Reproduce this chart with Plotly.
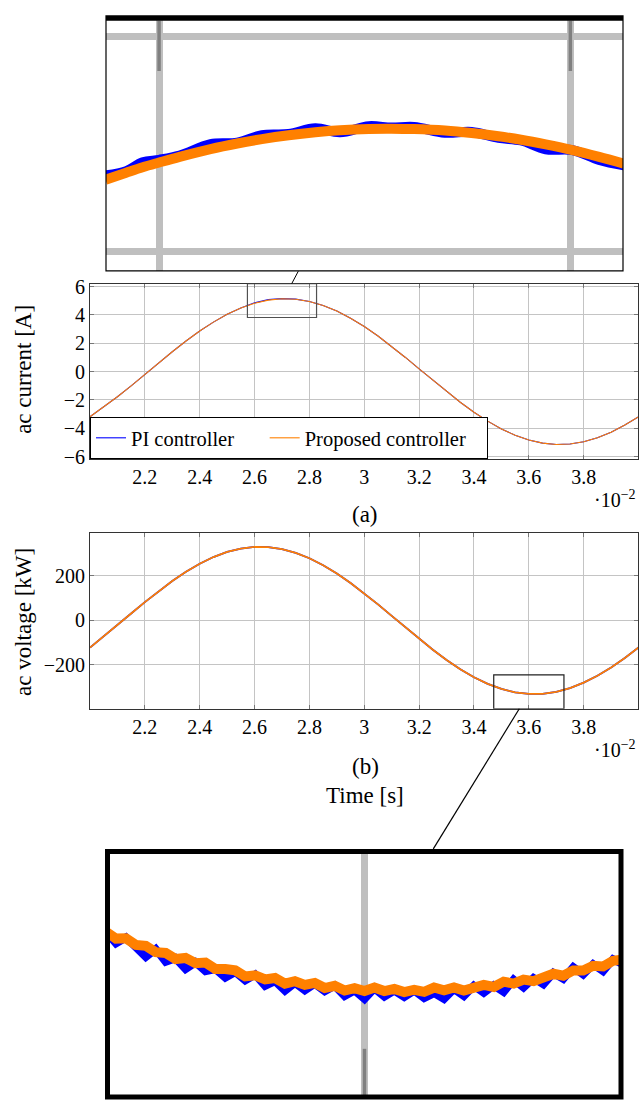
import plotly.graph_objects as go

# ---------------- data (time in units of 1e-2 s) ----------------
t_main = [2.00, 2.05, 2.10, 2.15, 2.20, 2.25, 2.30, 2.35, 2.40, 2.45, 2.50, 2.55, 2.60, 2.65,
          2.70, 2.75, 2.80, 2.85, 2.90, 2.95, 3.00, 3.05, 3.10, 3.15, 3.20, 3.25, 3.30, 3.35,
          3.40, 3.45, 3.50, 3.55, 3.60, 3.65, 3.70, 3.75, 3.80, 3.85, 3.90, 3.95, 4.00]

pi_current = [-3.18, -2.50, -1.77, -1.00, -0.19, 0.61, 1.40, 2.16, 2.86, 3.49, 4.04, 4.49, 4.85, 5.08,
              5.15, 5.11, 4.94, 4.66, 4.27, 3.77, 3.18, 2.51, 1.77, 1.00, 0.19, -0.61, -1.40, -2.16,
              -2.86, -3.49, -4.04, -4.49, -4.82, -5.04, -5.14, -5.10, -4.94, -4.66, -4.27, -3.77, -3.18]
proposed_current = [-3.18, -2.50, -1.77, -1.00, -0.19, 0.61, 1.40, 2.16, 2.86, 3.49, 4.04, 4.49, 4.82, 5.04,
                    5.14, 5.10, 4.94, 4.66, 4.27, 3.77, 3.18, 2.51, 1.77, 1.00, 0.19, -0.61, -1.40, -2.16,
                    -2.86, -3.49, -4.04, -4.49, -4.82, -5.04, -5.14, -5.10, -4.94, -4.66, -4.27, -3.77, -3.18]

pi_voltage = [-121.8, -72.2, -20.8, 31.1, 82.3, 131.4, 177.4, 218.9, 255.0, 284.9, 307.8, 323.0, 330.3, 329.5,
              320.6, 303.8, 279.5, 248.3, 211.0, 168.5, 121.8, 72.2, 20.8, -31.1, -82.3, -131.4, -177.4,
              -218.9, -255.0, -284.9, -307.8, -323.0, -330.3, -329.5, -320.6, -303.8, -279.5, -248.3,
              -211.0, -168.5, -121.8]
proposed_voltage = [-121.8, -72.2, -20.8, 31.1, 82.3, 131.4, 177.4, 218.9, 255.0, 284.9, 307.8, 323.0, 330.3, 329.5,
                    320.6, 303.8, 279.5, 248.3, 211.0, 168.5, 121.8, 72.2, 20.8, -31.1, -82.3, -131.4, -177.4,
                    -218.9, -255.0, -284.9, -307.8, -323.0, -330.3, -329.5, -320.6, -303.8, -279.5, -248.3,
                    -211.0, -168.5, -121.8]

# zoomed detail, current (inset a)
t_zoom_a = [2.574, 2.584, 2.592, 2.600, 2.610, 2.625, 2.638, 2.650, 2.663, 2.676, 2.688,
            2.702, 2.713, 2.724, 2.739, 2.752, 2.765, 2.776, 2.788, 2.801, 2.814, 2.826]
pi_current_zoom = [4.705, 4.745, 4.827, 4.850, 4.890, 4.996, 5.010, 5.080, 5.090, 5.144, 5.106,
                   5.163, 5.150, 5.156, 5.102, 5.109, 5.054, 5.030, 4.948, 4.941, 4.848, 4.798]
proposed_current_zoom = [4.665, 4.730, 4.781, 4.825, 4.878, 4.950, 5.002, 5.043, 5.079, 5.107, 5.126,
                         5.138, 5.140, 5.136, 5.122, 5.099, 5.069, 5.037, 4.994, 4.941, 4.878, 4.815]

# zoomed detail, voltage (inset b)
t_zoom_b = [3.470, 3.475, 3.480, 3.485, 3.490, 3.495, 3.500, 3.505, 3.510, 3.515, 3.520, 3.525, 3.530,
            3.535, 3.540, 3.545, 3.550, 3.555, 3.560, 3.565, 3.570, 3.575, 3.580, 3.585, 3.590, 3.595,
            3.600, 3.605, 3.610, 3.615, 3.620, 3.625, 3.630, 3.635, 3.640, 3.645, 3.650, 3.655, 3.660,
            3.665, 3.670, 3.675, 3.680, 3.685, 3.690, 3.695, 3.700, 3.705, 3.710, 3.715, 3.720, 3.725, 3.730]
pi_voltage_zoom = [-293.9, -301.2, -297.5, -303.7, -309.8, -304.8, -312.8, -310.6, -317.4, -313.2, -318.8,
                   -317.4, -322.9, -319.3, -324.6, -320.9, -328.0, -325.1, -331.1, -326.1, -330.9, -326.7,
                   -331.4, -328.0, -334.5, -331.0, -336.3, -329.6, -334.8, -331.0, -335.0, -331.0, -335.8,
                   -332.6, -336.3, -330.0, -334.5, -328.0, -332.4, -327.7, -331.9, -324.1, -329.1, -323.1,
                   -327.0, -319.9, -323.6, -316.3, -320.9, -314.4, -318.8, -311.2, -314.4]
proposed_voltage_zoom = [-293.9, -298.2, -298.0, -302.2, -302.8, -306.8, -307.3, -311.1, -310.4, -313.7, -313.3,
                         -317.4, -317.4, -318.3, -322.1, -321.4, -324.0, -323.1, -326.6, -325.1, -327.4, -326.2,
                         -329.4, -328.0, -331.0, -329.5, -331.3, -329.1, -331.3, -330.0, -332.0, -330.5, -331.8,
                         -329.1, -330.8, -329.0, -331.0, -328.5, -327.4, -328.7, -325.4, -326.6, -324.1, -325.1,
                         -322.5, -320.4, -321.6, -318.3, -318.4, -315.4, -315.8, -312.2, -311.4]

x_ticks = [2.2, 2.4, 2.6, 2.8, 3.0, 3.2, 3.4, 3.6, 3.8]
x_ticktext = ["2.2", "2.4", "2.6", "2.8", "3", "3.2", "3.4", "3.6", "3.8"]
ya_ticks = [-6, -4, -2, 0, 2, 4, 6]
yb_ticks = [-200, 0, 200]
series_names = ["PI controller", "Proposed controller"]

# ---------------- styling ----------------
W, H = 640, 1110
BLUE = "#0000ff"
ORANGE = "#ff8000"
GRID = "#c4c4c4"
FONT = "Liberation Serif, Times New Roman, serif"
NB = "\u00a0"


def px_x(p):
    return p / W


def px_y(p):
    return 1 - p / H


fig = go.Figure()

# main (a)
fig.add_trace(go.Scatter(x=t_main, y=pi_current, mode="lines", name=series_names[0] + NB * 5,
                         line=dict(color=BLUE, width=1.1), xaxis="x", yaxis="y"))
fig.add_trace(go.Scatter(x=t_main, y=proposed_current, mode="lines", name=series_names[1] + NB * 3,
                         line=dict(color=ORANGE, width=1.1), xaxis="x", yaxis="y"))
# main (b)
fig.add_trace(go.Scatter(x=t_main, y=pi_voltage, mode="lines", showlegend=False,
                         line=dict(color=BLUE, width=1.8), xaxis="x2", yaxis="y2"))
fig.add_trace(go.Scatter(x=t_main, y=proposed_voltage, mode="lines", showlegend=False,
                         line=dict(color=ORANGE, width=1.8), xaxis="x2", yaxis="y2"))
# inset (a)
fig.add_trace(go.Scatter(x=t_zoom_a, y=pi_current_zoom, mode="lines", showlegend=False,
                         line=dict(color=BLUE, width=10, shape="spline"), xaxis="x3", yaxis="y3"))
fig.add_trace(go.Scatter(x=t_zoom_a, y=proposed_current_zoom, mode="lines", showlegend=False,
                         line=dict(color=ORANGE, width=10, shape="spline"), xaxis="x3", yaxis="y3"))
# inset (b)
fig.add_trace(go.Scatter(x=t_zoom_b, y=pi_voltage_zoom, mode="lines", showlegend=False,
                         line=dict(color=BLUE, width=8), xaxis="x4", yaxis="y4"))
fig.add_trace(go.Scatter(x=t_zoom_b, y=proposed_voltage_zoom, mode="lines", showlegend=False,
                         line=dict(color=ORANGE, width=10), xaxis="x4", yaxis="y4"))

main_x = dict(range=[2.0, 3.998], tickvals=x_ticks, ticktext=x_ticktext, showgrid=True,
              gridcolor=GRID, gridwidth=1, zeroline=False, showline=True, linecolor="#333333",
              linewidth=1, mirror="ticks", ticks="inside", ticklen=4, tickcolor="#777777",
              tickfont=dict(family=FONT, size=20, color="black"))
main_y = dict(showgrid=True, gridcolor=GRID, gridwidth=1, zeroline=False, showline=True,
              linecolor="#333333", linewidth=1, mirror="ticks", ticks="inside", ticklen=4,
              tickcolor="#777777", tickfont=dict(family=FONT, size=20, color="black"))

fig.update_layout(
    width=W, height=H, margin=dict(l=0, r=0, t=0, b=0),
    paper_bgcolor="white", plot_bgcolor="white",
    xaxis=dict(main_x, domain=[px_x(90), px_x(638)], anchor="y"),
    yaxis=dict(main_y, domain=[px_y(458), px_y(280)], anchor="x", range=[-6.16, 6.2],
               tickvals=ya_ticks),
    xaxis2=dict(main_x, domain=[px_x(90), px_x(638)], anchor="y2"),
    yaxis2=dict(main_y, domain=[px_y(711.7), px_y(532.7)], anchor="x2", range=[-397, 395],
                tickvals=yb_ticks),
    xaxis3=dict(domain=[px_x(106), px_x(623)], anchor="y3", range=[2.5742, 2.8256],
                tickvals=[2.6, 2.8], showticklabels=False, showgrid=True, gridcolor="#bfbfbf",
                gridwidth=7, zeroline=False, showline=False, ticks=""),
    yaxis3=dict(domain=[px_y(267), px_y(8)], anchor="x3", range=[3.816, 6.19],
                tickvals=[4, 6], showticklabels=False, showgrid=True, gridcolor="#bfbfbf",
                gridwidth=7, zeroline=False, showline=False, ticks=""),
    xaxis4=dict(domain=[px_x(110), px_x(619)], anchor="y4", range=[3.472, 3.728],
                tickvals=[3.6], showticklabels=False, showgrid=True, gridcolor="#bfbfbf",
                gridwidth=7, zeroline=False, showline=False, ticks=""),
    yaxis4=dict(domain=[px_y(1104), px_y(859)], anchor="x4", range=[-397, -244.7],
                tickvals=[-200], showticklabels=False, showgrid=False, zeroline=False,
                showline=False, ticks=""),
    legend=dict(x=px_x(90), y=px_y(458), xanchor="left", yanchor="bottom", orientation="h",
                bgcolor="white", bordercolor="black", borderwidth=1,
                font=dict(family=FONT, size=20.5, color="black"), tracegroupgap=0),
    font=dict(family=FONT, color="black"),
)

shapes = []
# zoom boxes on main axes
shapes.append(dict(type="rect", xref="x", yref="y", x0=2.574, x1=2.826, y0=3.816, y1=6.2,
                   line=dict(color="#505050", width=1.2)))
shapes.append(dict(type="rect", xref="x2", yref="y2", x0=3.472, x1=3.728, y0=-397, y1=-244.7,
                   line=dict(color="#202020", width=1.2)))
# connectors
shapes.append(dict(type="line", xref="paper", yref="paper", x0=px_x(298.3), y0=px_y(267.3),
                   x1=px_x(291.7), y1=px_y(280), line=dict(color="black", width=1)))
shapes.append(dict(type="line", xref="paper", yref="paper", x0=px_x(519.3), y0=px_y(711.7),
                   x1=px_x(433.3), y1=px_y(854), line=dict(color="black", width=1.2)))
# magnified tick marks in insets
for tv in [2.6, 2.8]:
    shapes.append(dict(type="line", xref="x3", yref="paper", x0=tv, x1=tv, y0=px_y(64), y1=px_y(13),
                       line=dict(color="#808080", width=3.5), layer="above"))
shapes.append(dict(type="line", xref="x4", yref="paper", x0=3.6, x1=3.6, y0=px_y(1104), y1=px_y(1057),
                   line=dict(color="#808080", width=3.5), layer="above"))
# top inset frame and magnified axis line
shapes.append(dict(type="rect", xref="paper", yref="paper", x0=px_x(106), x1=px_x(623),
                   y0=px_y(267), y1=px_y(8), line=dict(color="black", width=1.2), layer="above"))
shapes.append(dict(type="rect", xref="paper", yref="paper", x0=px_x(106), x1=px_x(623),
                   y0=px_y(13), y1=px_y(8), fillcolor="black", line=dict(width=0), layer="above"))
# bottom inset thick frame
shapes.append(dict(type="rect", xref="paper", yref="paper", x0=px_x(107.5), x1=px_x(621),
                   y0=px_y(1106), y1=px_y(856.5), line=dict(color="black", width=5), layer="above"))
fig.update_layout(shapes=shapes)


def note(text, x, y, size, xanchor="center", yanchor="middle", angle=0):
    return dict(text=text, x=px_x(x), y=px_y(y), xref="paper", yref="paper",
                xanchor=xanchor, yanchor=yanchor, textangle=angle, showarrow=False,
                font=dict(family=FONT, size=size, color="black"))


ann = [
    note("ac current [A]", 24, 367.5, 23, angle=-90),
    note("ac voltage [kW]", 24, 623.5, 23, angle=-90),
    note("·10<sup>−2</sup>", 638, 499, 20, xanchor="right"),
    note("·10<sup>−2</sup>", 638, 753, 20, xanchor="right"),
    note("(a)", 365, 514, 23),
    note("(b)", 365, 770, 23),
    note("Time [s]", 365, 800, 23),
]
fig.update_layout(annotations=ann)

fig.write_html("out.html")
